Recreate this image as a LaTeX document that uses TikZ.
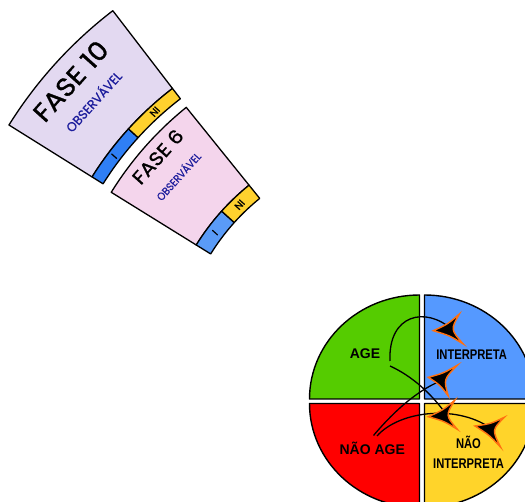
\documentclass[tikz,border=0pt]{standalone}
\usepackage{fontspec}
\usepackage{graphicx}
\setmainfont{Liberation Sans}
\newfontfamily\narrowsans[FakeStretch=0.8]{Liberation Sans}
\newfontfamily\handfont[FakeBold=1.2]{Poppins}
\newfontfamily\handnarrow[FakeStretch=0.72,FakeBold=0.6]{Poppins}
\usetikzlibrary{calc}

\definecolor{qgreen}{HTML}{55CC00}
\definecolor{qblue}{HTML}{5599FF}
\definecolor{qred}{HTML}{FF0000}
\definecolor{qyellow}{HTML}{FFD42A}
\definecolor{lav}{HTML}{E3D9F1}
\definecolor{pinkw}{HTML}{F4D5EC}
\definecolor{bandblueA}{HTML}{2F7FF5}
\definecolor{bandblueB}{HTML}{5A9BF7}
\definecolor{nigold}{HTML}{FFD12E}
\definecolor{navy}{HTML}{1C1C9C}
\definecolor{dartorange}{HTML}{FF7010}

% concave three-pointed head: tip, two barbs, centre
\newcommand\darthead[4]{%
  \draw[dart] (#1) .. controls ($(#1)!0.5!(#2)!0.25!(#4)$) .. (#2)
    .. controls ($(#2)!0.5!(#3)!1.15!(#4)$) .. (#3)
    .. controls ($(#3)!0.5!(#1)!0.25!(#4)$) .. (#1) -- cycle;}

\begin{document}
\begin{tikzpicture}[x=1pt,y=1pt,yscale=-1,
  quad/.style={draw=black,line width=1.4pt,line join=round},
  wedge/.style={draw=black,line width=1.3pt,line join=round},
  link/.style={draw=black,line width=1.3pt},
  dart/.style={fill=black,draw=dartorange,line width=1.4pt,line join=miter},
  qlabel/.style={font=\fontsize{14}{14}\selectfont\bfseries,inner sep=0pt},
  qnarrow/.style={font=\narrowsans\fontsize{14}{19.5}\selectfont\bfseries,inner sep=0pt,align=center},
  fase/.style={font=\handfont,inner sep=0pt},
  obs/.style={font=\handnarrow,text=navy,inner sep=0pt},
  band/.style={font=\handfont\fontsize{10}{10}\selectfont,inner sep=0pt}]

\useasboundingbox (0,0) rectangle (525,502);
\clip (0,0) rectangle (525,502);

% ---------- FASE 10 sector ----------
\coordinate (c10) at (377,355);
\draw[wedge,fill=lav] ($(c10)+(212:434)$) arc[start angle=212,end angle=232.5,radius=434]
  -- ($(c10)+(232.5:336)$) arc[start angle=232.5,end angle=212,radius=336] -- cycle;
\draw[wedge,fill=bandblueA] ($(c10)+(212:336)$) arc[start angle=212,end angle=222.3,radius=336]
  -- ($(c10)+(222.3:323)$) arc[start angle=222.3,end angle=212,radius=323] -- cycle;
\draw[wedge,fill=nigold] ($(c10)+(222.3:336)$) arc[start angle=222.3,end angle=232.5,radius=336]
  -- ($(c10)+(232.5:323)$) arc[start angle=232.5,end angle=222.3,radius=323] -- cycle;
\node[fase,rotate=48] (fase10) at ($(c10)+(221.8:411)$) {\resizebox{98pt}{19pt}{FASE 10}};
\node[obs,rotate=48] (obs10) at ($(c10)+(221.8:381)$) {\resizebox{76pt}{12pt}{OBSERVÁVEL}};
\node[band,rotate=48] (i10) at ($(c10)+(217.1:329.5)$) {I};
\node[band,rotate=48] (ni10) at ($(c10)+(227.6:329.5)$) {NI};

% ---------- FASE 6 sector ----------
\coordinate (c6) at (398.5,370.4);
\draw[wedge,fill=pinkw] ($(c6)+(211.8:338)$) arc[start angle=211.8,end angle=231.1,radius=338]
  -- ($(c6)+(231.1:238)$) arc[start angle=231.1,end angle=211.8,radius=238] -- cycle;
\draw[wedge,fill=bandblueB] ($(c6)+(211.8:238)$) arc[start angle=211.8,end angle=222,radius=238]
  -- ($(c6)+(222:221)$) arc[start angle=222,end angle=211.8,radius=221] -- cycle;
\draw[wedge,fill=nigold] ($(c6)+(222:238)$) arc[start angle=222,end angle=231.1,radius=238]
  -- ($(c6)+(231.1:221)$) arc[start angle=231.1,end angle=222,radius=221] -- cycle;
\node[fase,rotate=48] (fase6) at ($(c6)+(221.6:322)$) {\resizebox{66pt}{14pt}{FASE 6}};
\node[obs,rotate=48] (obs6) at ($(c6)+(221.4:294)$) {\resizebox{60pt}{10pt}{OBSERVÁVEL}};
\node[band,rotate=48] (i6) at ($(c6)+(216.9:229.5)$) {I};
\node[band,rotate=48] (ni6) at ($(c6)+(226.2:229.5)$) {NI};

% ---------- quadrant disc ----------
\draw[quad,fill=qgreen] (419.5,399) -- ++(-110,0)
  arc[start angle=180,end angle=270,x radius=110,y radius=104] -- cycle;
\draw[quad,fill=qblue] (424.5,399) -- ++(0,-104)
  arc[start angle=270,end angle=360,x radius=110,y radius=104] -- cycle;
\draw[quad,fill=qyellow] (424.5,403.5) -- ++(110,0)
  arc[start angle=0,end angle=90,x radius=110,y radius=104] -- cycle;
\draw[quad,fill=qred] (419.5,403.5) -- ++(0,104)
  arc[start angle=90,end angle=180,x radius=110,y radius=104] -- cycle;

\node[qlabel] (age) at (365,353.3) {AGE};
\node[qnarrow] (interp) at (471.7,354.2) {INTERPRETA};
\node[qlabel] (naoage) at (372.2,448.3) {NÃO AGE};
\node[qnarrow] (naointerp) at (468.5,452.5) {NÃO\\INTERPRETA};

% ---------- heads ----------
\coordinate (t1) at (433.3,330.7); \coordinate (u1) at (459.3,314);   \coordinate (v1) at (463.3,344);
\coordinate (t2) at (428.3,377.3); \coordinate (u2) at (457.7,365);   \coordinate (v2) at (448.3,396);
\coordinate (t3) at (428.3,416.7); \coordinate (u3) at (455,400);     \coordinate (v3) at (457.3,429.3);
\coordinate (t4) at (475,426);     \coordinate (u4) at (504.3,417.3); \coordinate (v4) at (500.7,447.3);
\coordinate (h1) at (barycentric cs:t1=1,u1=1,v1=1);
\coordinate (h2) at (barycentric cs:t2=1,u2=1,v2=1);
\coordinate (h3) at (barycentric cs:t3=1,u3=1,v3=1);
\coordinate (h4) at (barycentric cs:t4=1,u4=1,v4=1);

% line starts beside the labels
\coordinate (s1) at (390,361);
\coordinate (s2) at (390,366);
\coordinate (s3) at (373.5,435.5);
\coordinate (s4) at (377,436);

\draw[link] (s1) .. controls (388,314) and (426,306) .. (h1);
\draw[link] (s2) .. controls (412,376) and (432,394) .. (h3);
\draw[link] (s3) .. controls (395,410) and (420,388) .. (h2);
\draw[link] (s4) .. controls (400,410) and (460,404) .. (h4);

\darthead{t1}{u1}{v1}{h1}
\darthead{t2}{u2}{v2}{h2}
\darthead{t3}{u3}{v3}{h3}
\darthead{t4}{u4}{v4}{h4}
\end{tikzpicture}
\end{document}
